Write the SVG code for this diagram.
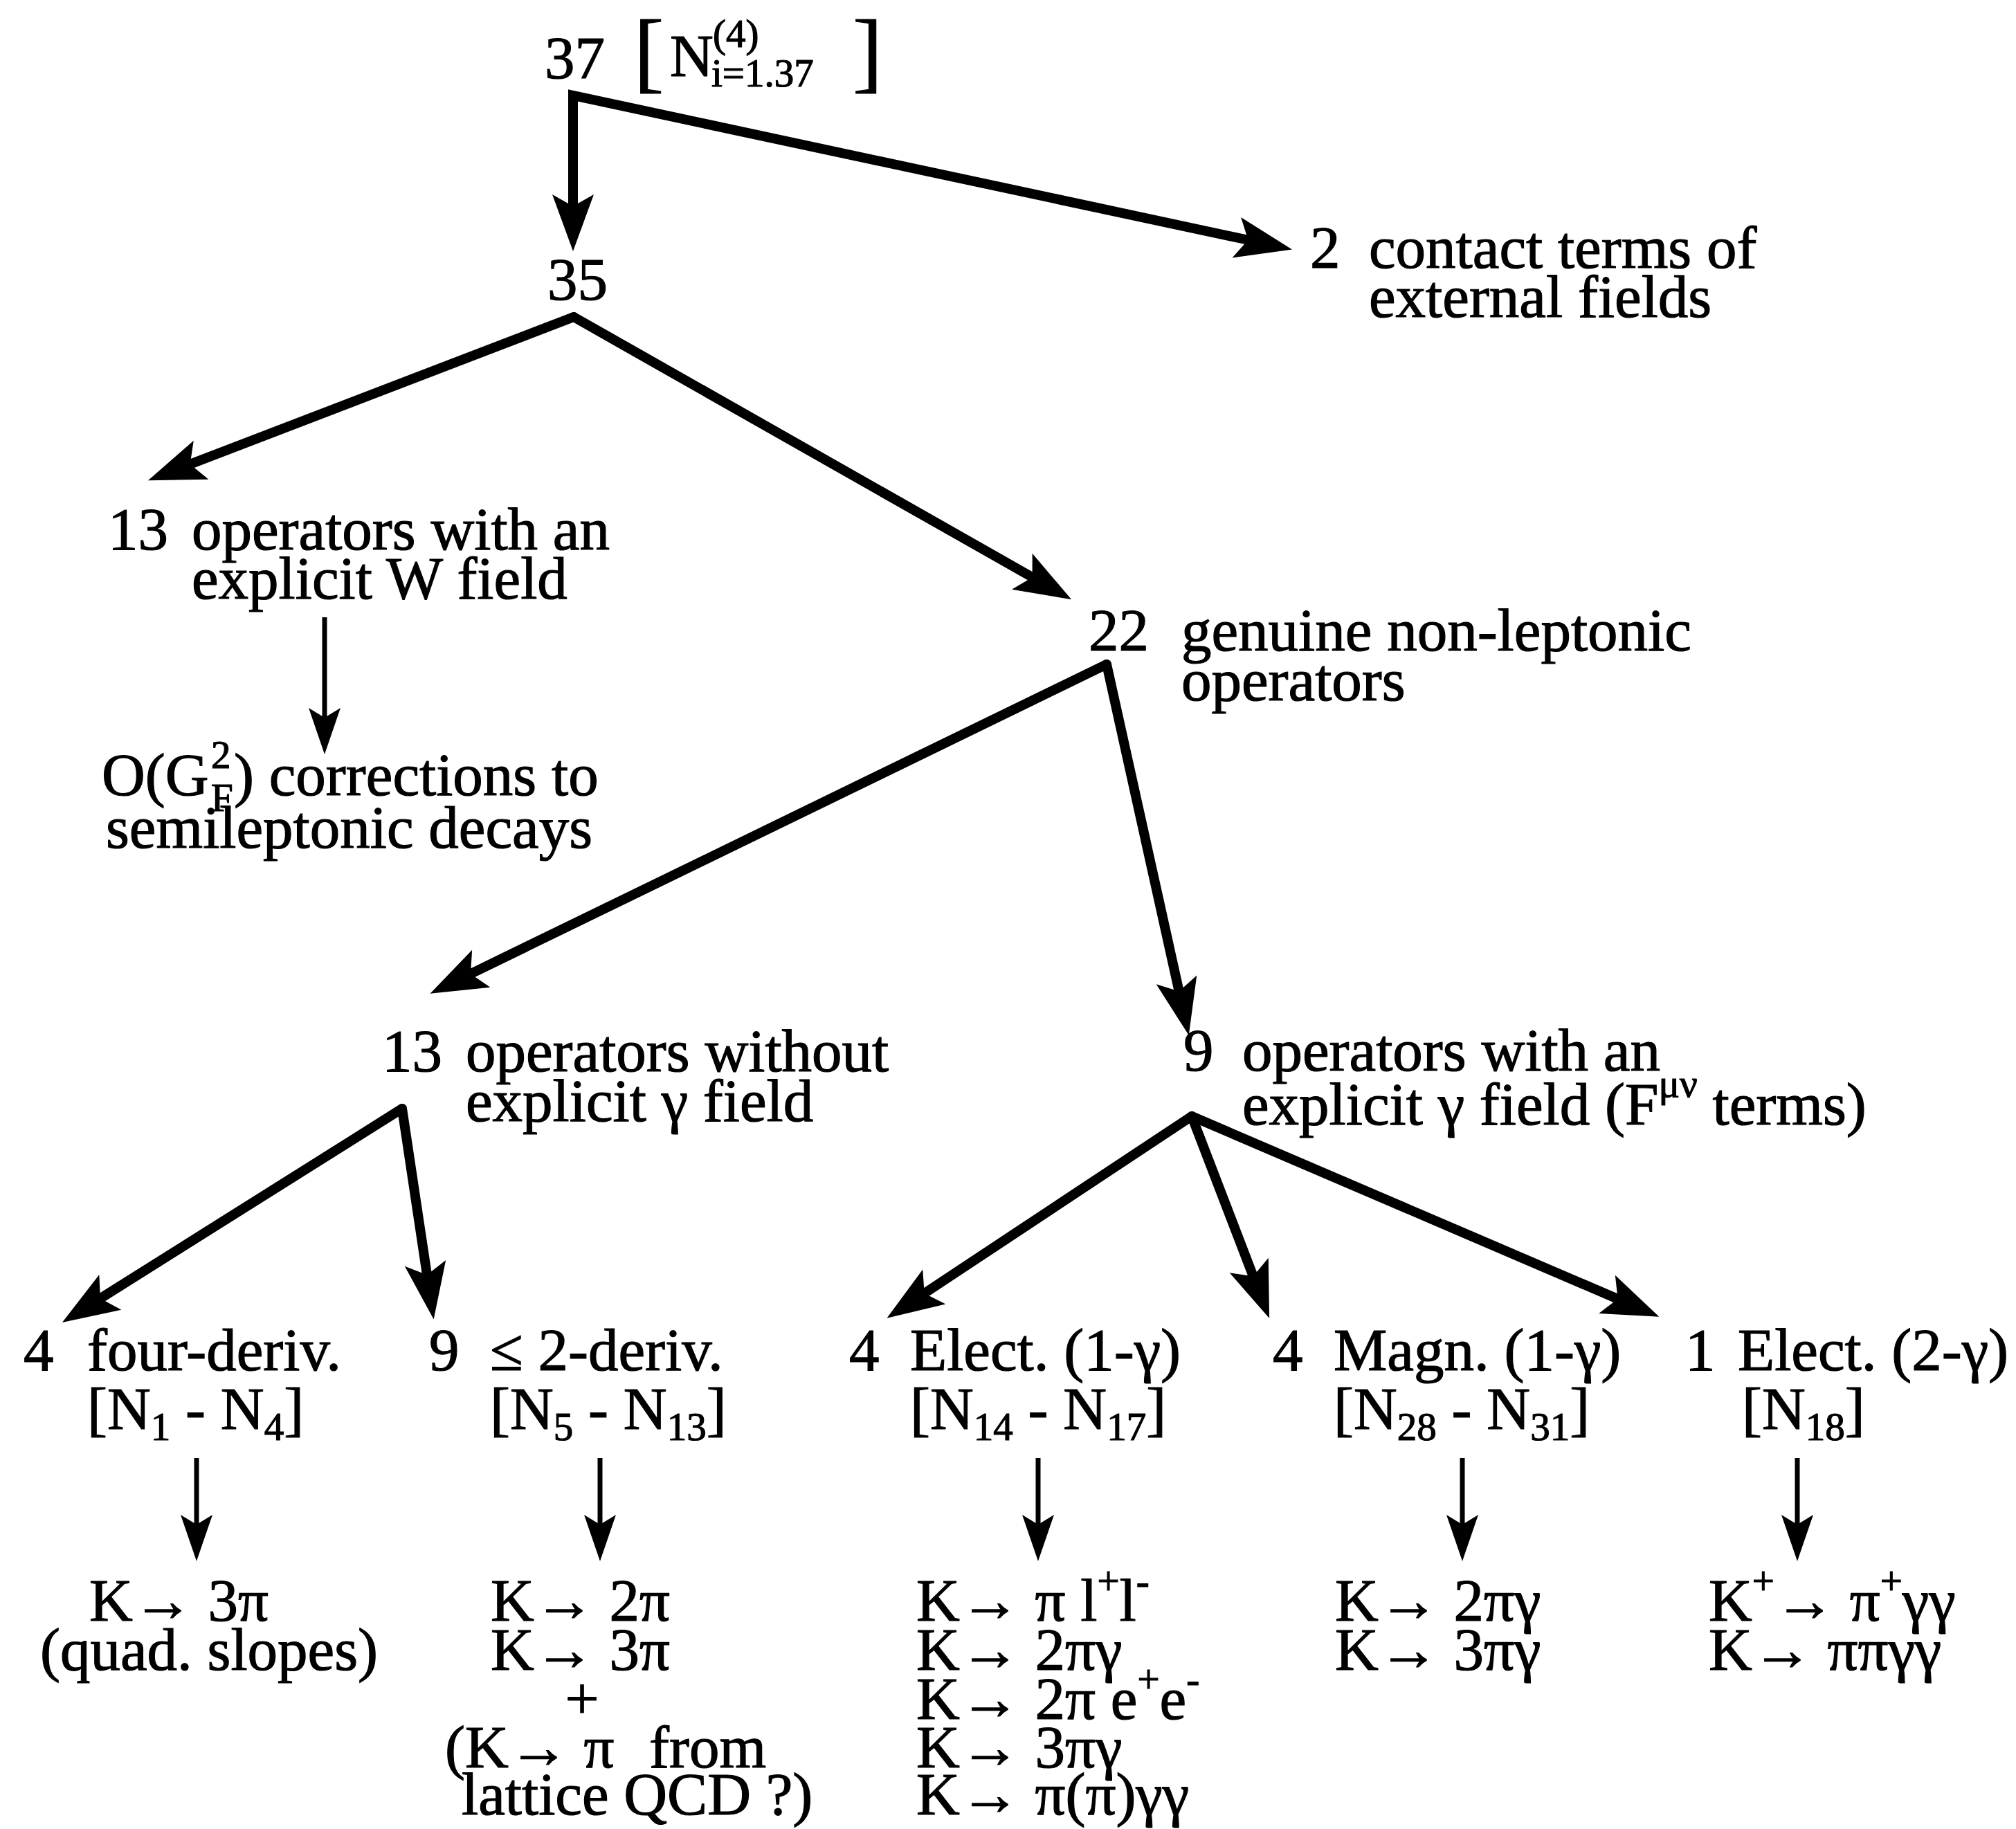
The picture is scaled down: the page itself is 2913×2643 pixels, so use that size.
<svg xmlns="http://www.w3.org/2000/svg" width="2913" height="2643" viewBox="0 0 2913 2643">
<style>
.t{font-family:"Liberation Serif","Times New Roman",serif;font-size:87px;fill:#000;stroke:#000;stroke-width:1.2px}
.s{font-size:57px}
.big{font-size:130px}
.thick{stroke:#000;stroke-width:14;fill:none;stroke-linecap:round;stroke-linejoin:miter}
.thin{stroke:#000;stroke-width:7;fill:none;stroke-linecap:butt}
</style>
<defs>
<marker id="ah" markerUnits="userSpaceOnUse" orient="auto" refX="0" refY="0" markerWidth="200" markerHeight="200" viewBox="-100 -100 200 200" overflow="visible">
<path d="M45,0 L-37,-30 L-20,0 L-37,30 Z" fill="#000"/>
</marker>
<marker id="ahs" markerUnits="userSpaceOnUse" orient="auto-start-reverse" refX="0" refY="0" markerWidth="200" markerHeight="200" viewBox="-100 -100 200 200" overflow="visible">
<path d="M45,0 L-37,-30 L-20,0 L-37,30 Z" fill="#000"/>
</marker>
<marker id="ah2" markerUnits="userSpaceOnUse" orient="auto" refX="0" refY="0" markerWidth="200" markerHeight="200" viewBox="-100 -100 200 200" overflow="visible">
<path d="M35,0 L-32,-23 L-18,0 L-32,23 Z" fill="#000"/>
</marker>
</defs>
<rect x="0" y="0" width="2913" height="2643" fill="#fff"/>

<g id="connectors">
<path class="thick" style="stroke-linecap:butt" d="M828,318 L828,138 L1823,351" marker-start="url(#ahs)" marker-end="url(#ah)"/>
<path class="thick" d="M829,458 L256,678" marker-end="url(#ah)"/>
<path class="thick" d="M829,458 L1509,844" marker-end="url(#ah)"/>
<path class="thin" d="M469,892 L469,1055" marker-end="url(#ah2)"/>
<path class="thick" d="M1599,960 L662,1416" marker-end="url(#ah)"/>
<path class="thick" d="M1599,960 L1708,1452" marker-end="url(#ah)"/>
<path class="thick" d="M581,1602 L128,1887" marker-end="url(#ah)"/>
<path class="thick" d="M581,1602 L620,1862" marker-end="url(#ah)"/>
<path class="thick" d="M1722,1613 L1319,1880" marker-end="url(#ah)"/>
<path class="thick" d="M1722,1613 L1818,1863" marker-end="url(#ah)"/>
<path class="thick" d="M1722,1613 L2356,1885" marker-end="url(#ah)"/>
<path class="thin" d="M284,2107 L284,2221" marker-end="url(#ah2)"/>
<path class="thin" d="M867,2107 L867,2221" marker-end="url(#ah2)"/>
<path class="thin" d="M1500,2107 L1500,2221" marker-end="url(#ah2)"/>
<path class="thin" d="M2113,2107 L2113,2221" marker-end="url(#ah2)"/>
<path class="thin" d="M2597,2107 L2597,2221" marker-end="url(#ah2)"/>
</g>

<g id="n37">
<text class="t" x="787" y="113">37</text>
<text class="t big" x="916" y="118">[</text>
<text class="t" x="968" y="110">N</text>
<text class="t s" x="1030" y="68">(4)</text>
<text class="t s" x="1028" y="125">i=1.37</text>
<text class="t big" x="1232" y="118">]</text>
</g>

<g id="n35">
<text class="t" x="791" y="433">35</text>
</g>

<g id="n2">
<text class="t" x="1893" y="387">2</text>
<text class="t" x="1978" y="387">contact terms of</text>
<text class="t" x="1978" y="458">external fields</text>
</g>

<g id="n13w">
<text class="t" x="156" y="794">13</text>
<text class="t" x="277" y="794">operators with an</text>
<text class="t" x="277" y="865">explicit W field</text>
</g>

<g id="nGF">
<text class="t" x="147" y="1149">O(G</text>
<text class="t s" x="305" y="1110">2</text>
<text class="t s" x="305" y="1172">F</text>
<text class="t" x="338" y="1149">) corrections to</text>
<text class="t" x="153" y="1225">semileptonic decays</text>
</g>

<g id="n22">
<text class="t" x="1573" y="940">22</text>
<text class="t" x="1707" y="940">genuine non-leptonic</text>
<text class="t" x="1707" y="1012">operators</text>
</g>

<g id="n13wo">
<text class="t" x="552" y="1548">13</text>
<text class="t" x="673" y="1548">operators without</text>
<text class="t" x="673" y="1620">explicit γ field</text>
</g>

<g id="n9">
<text class="t" x="1710" y="1547">9</text>
<text class="t" x="1795" y="1547">operators with an</text>
<text class="t" x="1795" y="1625">explicit γ field (F<tspan class="s" dy="-40">μν</tspan><tspan dy="40"> terms)</tspan></text>
</g>

<g id="n4a">
<text class="t" x="34" y="1980">4</text>
<text class="t" x="126" y="1980">four-deriv.</text>
<text class="t" x="126" y="2065">[N<tspan class="s" dy="16">1</tspan><tspan dy="-16"> - N</tspan><tspan class="s" dy="16">4</tspan><tspan dy="-16">]</tspan></text>
</g>

<g id="n9b">
<text class="t" x="620" y="1980">9</text>
<text class="t" x="708" y="1980">≤ 2-deriv.</text>
<text class="t" x="708" y="2065">[N<tspan class="s" dy="16">5</tspan><tspan dy="-16"> - N</tspan><tspan class="s" dy="16">13</tspan><tspan dy="-16">]</tspan></text>
</g>

<g id="n4e">
<text class="t" x="1227" y="1980">4</text>
<text class="t" x="1315" y="1980">Elect. (1-γ)</text>
<text class="t" x="1315" y="2065">[N<tspan class="s" dy="16">14</tspan><tspan dy="-16"> - N</tspan><tspan class="s" dy="16">17</tspan><tspan dy="-16">]</tspan></text>
</g>

<g id="n4m">
<text class="t" x="1839" y="1980">4</text>
<text class="t" x="1927" y="1980">Magn. (1-γ)</text>
<text class="t" x="1927" y="2065">[N<tspan class="s" dy="16">28</tspan><tspan dy="-16"> - N</tspan><tspan class="s" dy="16">31</tspan><tspan dy="-16">]</tspan></text>
</g>

<g id="n1e">
<text class="t" x="2435" y="1980">1</text>
<text class="t" x="2511" y="1980">Elect. (2-γ)</text>
<text class="t" x="2517" y="2065">[N<tspan class="s" dy="16">18</tspan><tspan dy="-16">]</tspan></text>
</g>

<g id="r1">
<text class="t" x="129" y="2342">K→ 3π</text>
<text class="t" x="58" y="2413">(quad. slopes)</text>
</g>

<g id="r2">
<text class="t" x="709" y="2342">K→ 2π</text>
<text class="t" x="709" y="2413">K→ 3π</text>
<text class="t" x="841" y="2484" text-anchor="middle">+</text>
<text class="t" x="643" y="2554">(K→ π<tspan x="938">from</tspan></text>
<text class="t" x="667" y="2622">lattice QCD ?)</text>
</g>

<g id="r3">
<text class="t" x="1324" y="2342">K→ π l<tspan class="s" dy="-38">+</tspan><tspan dy="38">l</tspan><tspan class="s" dy="-38">-</tspan></text>
<text class="t" x="1324" y="2413">K→ 2πγ</text>
<text class="t" x="1324" y="2484">K→ 2π e<tspan class="s" dy="-38">+</tspan><tspan dy="38">e</tspan><tspan class="s" dy="-38">-</tspan></text>
<text class="t" x="1324" y="2554">K→ 3πγ</text>
<text class="t" x="1324" y="2622">K→ π(π)γγ</text>
</g>

<g id="r4">
<text class="t" x="1929" y="2342">K→ 2πγ</text>
<text class="t" x="1929" y="2413">K→ 3πγ</text>
</g>

<g id="r5">
<text class="t" x="2469" y="2342">K<tspan class="s" dy="-38">+</tspan><tspan dy="38">→ π</tspan><tspan class="s" dy="-38">+</tspan><tspan dy="38">γγ</tspan></text>
<text class="t" x="2469" y="2413">K→ ππγγ</text>
</g>
</svg>
